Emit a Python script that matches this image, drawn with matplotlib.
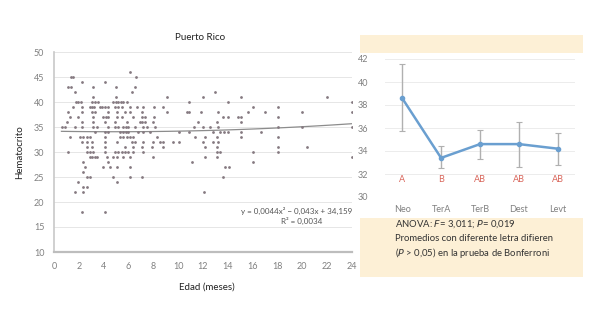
import matplotlib.pyplot as plt
import numpy as np
from matplotlib.patches import Rectangle

plt.rcParams["font.family"] = ["Lato", "DejaVu Sans"]

# scatter: hematocrit levels and the ages (months) read at each level
hct_levels = [46, 45, 44, 43, 42, 41, 40, 39, 38, 37, 36, 35, 34, 33,
              32, 31, 30, 29, 28, 27, 26, 25, 24, 23, 22, 18]
ages_by_level = [
    [6.1],
    [1.37, 1.56, 6.6],
    [2.23, 4.1],
    [1.15, 1.37, 3.17, 5.0, 6.52],
    [1.69, 6.25, 12.96],
    [3.17, 5.0, 9.07, 12.0, 15.1, 22.0],
    [1.74, 1.96, 2.17, 3.09, 3.30, 3.57, 4.78, 4.97, 5.18, 5.39, 5.58, 5.85,
     10.9, 14.0, 24.0],
    [1.56, 2.23, 2.90, 3.03, 3.25, 3.70, 3.89, 4.1, 4.37, 4.91, 5.18, 5.45,
     6.12, 6.66, 7.19, 8.05, 8.8, 16.05, 18.06],
    [1.15, 2.23, 3.03, 3.3, 4.37, 5.05, 5.72, 6.12, 7.06, 9.07, 10.7, 10.9,
     11.8, 13.2, 15.6, 17.0, 20.0, 24.0],
    [1.29, 1.96, 3.17, 3.97, 4.16, 4.37, 5.05, 5.45, 6.39, 7.06, 7.33, 8.05,
     13.6, 14.0, 14.8, 15.1, 18.06],
    [1.02, 2.23, 3.17, 4.1, 4.91, 5.85, 6.92, 7.11, 7.33, 8.0, 11.6, 13.1,
     15.1],
    [0.62, 0.89, 1.69, 2.23, 3.17, 3.44, 4.37, 4.91, 5.13, 5.58, 5.77, 5.98,
     6.52, 7.19, 7.46, 8.1, 11.3, 12.0, 12.6, 13.2, 18.06, 20.0, 24.0],
    [3.3, 4.1, 4.37, 5.31, 5.58, 5.77, 5.98, 6.79, 7.19, 7.7, 10.1, 10.9,
     12.8, 13.4, 13.7, 14.0, 15.1, 16.7],
    [1.29, 2.09, 2.36, 2.63, 2.9, 4.1, 5.31, 5.58, 5.85, 6.12, 6.39, 8.27,
     11.35, 12.16, 13.1, 15.1, 18.06],
    [2.23, 2.63, 3.03, 4.1, 5.05, 6.25, 6.52, 7.19, 8.0, 8.5, 8.8, 9.6, 10.1,
     12.0, 12.8, 13.2],
    [2.63, 3.03, 4.1, 5.72, 6.39, 7.06, 7.9, 8.8, 12.2, 13.1, 18.06, 20.4],
    [1.1, 2.63, 2.9, 3.17, 4.1, 4.91, 5.18, 5.45, 5.72, 5.98, 6.39, 7.19,
     13.1, 13.4, 16.05, 18.06],
    [2.9, 3.03, 3.3, 3.44, 4.24, 4.78, 5.05, 5.58, 6.12, 8.0, 12.2, 13.1,
     24.0],
    [2.36, 4.37, 11.1, 16.05],
    [2.5, 3.97, 4.5, 5.05, 6.12, 13.8, 14.1],
    [2.36],
    [2.63, 2.9, 4.78, 6.12, 7.06, 13.6],
    [1.96, 5.05],
    [2.36, 2.63],
    [1.69, 2.36, 12.1],
    [2.23, 4.1],
]

# polynomial trend shown on the chart
trend_coef = [0.0044, -0.043, 34.159]
trend_range = [0.6, 24.0]

# group means with error bars
groups = ["Neo", "TerA", "TerB", "Dest", "Levt"]
group_mean = [38.6, 33.4, 34.6, 34.6, 34.2]
group_low = [35.7, 32.5, 33.3, 32.6, 32.8]
group_high = [41.6, 34.4, 35.8, 36.55, 35.6]
group_letters = ["A", "B", "AB", "AB", "AB"]

fig = plt.figure(figsize=(6.0, 3.17), dpi=100)
W, H = 600, 317


def fx(px):
    return px / W


def fy(py):
    return 1 - py / H


# ---- left: scatter ----
ax = fig.add_axes([fx(54), fy(252), 298 / W, 200 / H])
edad = np.concatenate([np.asarray(a) for a in ages_by_level])
hct = np.concatenate([np.full(len(a), lvl) for a, lvl in zip(ages_by_level, hct_levels)])
ax.scatter(edad, hct, s=4, color="#857980", linewidths=0, zorder=3)

xt = np.linspace(*trend_range, 100)
ax.plot(xt, np.polyval(trend_coef, xt), color="#8c8c8c", linewidth=0.9, zorder=2)

ax.set_xlim(0, 24)
ax.set_ylim(10, 50)
ax.set_xticks(np.arange(0, 25, 2))
ax.set_yticks(np.arange(10, 51, 5))
ax.yaxis.grid(True, color="#e6e6e6", linewidth=0.7)
ax.set_axisbelow(True)
for s in ["top", "right"]:
    ax.spines[s].set_visible(False)
ax.spines["left"].set_color("#c8c8c8")
ax.spines["left"].set_linewidth(1.2)
ax.spines["bottom"].set_color("#bdbdbd")
ax.spines["bottom"].set_linewidth(1.6)
ax.tick_params(length=0, labelsize=6.5, labelcolor="#808080", pad=7)

ax.text(0.815, 0.205, "y = 0,0044x² − 0,043x + 34,159", transform=ax.transAxes,
        ha="center", va="center", fontsize=5.8, color="#555555")
ax.text(0.83, 0.155, "R² = 0,0034", transform=ax.transAxes,
        ha="center", va="center", fontsize=5.8, color="#555555")

fig.text(fx(200), fy(37), "Puerto Rico", ha="center", va="center",
         fontsize=7, color="#222222")
fig.text(fx(20), fy(152), "Hematocrito", ha="center", va="center",
         rotation=90, fontsize=7, color="#222222")
fig.text(fx(207), fy(287), "Edad (meses)", ha="center", va="center",
         fontsize=7, color="#222222")

# ---- right: panel background ----
fig.patches.append(Rectangle((fx(360), fy(277)), 223 / W, 242 / H,
                             transform=fig.transFigure, facecolor="#fdf0d6",
                             edgecolor="none", zorder=-2))
fig.patches.append(Rectangle((fx(360), fy(218)), 223 / W, 165 / H,
                             transform=fig.transFigure, facecolor="white",
                             edgecolor="none", zorder=-1))

ax2 = fig.add_axes([fx(385), fy(197), 190 / W, 138 / H])
ax2.patch.set_alpha(0)
pos = np.arange(len(groups))
mean = np.asarray(group_mean)
yerr = [mean - np.asarray(group_low), np.asarray(group_high) - mean]
ax2.errorbar(pos, mean, yerr=yerr, fmt="none", ecolor="#b0b0b0",
             elinewidth=1.0, capsize=2, capthick=0.8, zorder=2)
ax2.plot(pos, mean, color="#6a9fd0", linewidth=1.8, marker="o",
         markersize=3, zorder=3)
for p, letter in zip(pos, group_letters):
    ax2.text(p, 31.5, letter, ha="center", va="center", fontsize=6.5,
             color="#d9665b")

ax2.set_xlim(-0.44, 4.44)
ax2.set_ylim(30, 42)
ax2.set_yticks(np.arange(30, 43, 2))
ax2.set_xticks(pos)
ax2.set_xticklabels(groups)
ax2.yaxis.grid(True, color="#ececec", linewidth=0.7)
ax2.set_axisbelow(True)
for s in ax2.spines.values():
    s.set_visible(False)
ax2.tick_params(axis="y", length=0, labelsize=6.5, labelcolor="#808080", pad=12)
ax2.tick_params(axis="x", length=0, labelsize=6.5, labelcolor="#808080", pad=6)

notes = [
    "ANOVA: $F$= 3,011; $P$= 0,019",
    "Promedios con diferente letra difieren",
    "($P$ > 0,05) en la prueba de Bonferroni",
]
for i, line in enumerate(notes):
    fig.text(fx(395), fy(224 + 14.5 * i), line, ha="left", va="center",
             fontsize=6.8, color="#333333")

fig.savefig("out.png", dpi=100)
